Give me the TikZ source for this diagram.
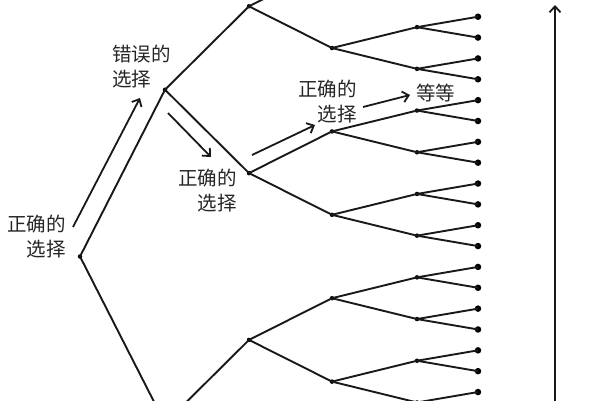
\documentclass[tikz,border=0pt]{standalone}
\usepackage{fontspec}
\newfontfamily\cjk{Noto Sans CJK SC}
\usetikzlibrary{arrows.meta}
\begin{document}
\begin{tikzpicture}[x=1pt,y=-1pt,
  edge/.style={line width=1.9pt, black!90},
  innerdot/.style={circle, fill=black, inner sep=0pt, minimum size=4.5pt},
  leafdot/.style={circle, fill=black, inner sep=0pt, minimum size=6.5pt},
  lbl/.style={font=\cjk\fontsize{19.5}{25}\selectfont, text=black!85, inner sep=0pt},
  hint/.style={line width=1.8pt, black!90, -{Straight Barb[length=6pt,width=11pt,line width=1.8pt]}}]
\useasboundingbox (0,0) rectangle (600,400);
\clip (0,0) rectangle (600,400);
\def\leafgap{20.85}
% tree nodes
\foreach \l/\x in {0/80,1/165,2/249,3/332,4/417} {
  \pgfmathtruncatemacro\nmax{2^\l-1}
  \pgfmathtruncatemacro\wid{2^(5-\l)}
  \foreach \i in {0,...,\nmax} {
    \pgfmathsetmacro\yy{256.5+(\i*\wid+(\wid-1)/2-15.5)*\leafgap}
    \node[innerdot] (n-\l-\i) at (\x,\yy) {};
  }
}
\foreach \i in {0,...,31} {
  \pgfmathsetmacro\yy{256.5+(\i-15.5)*\leafgap}
  \node[leafdot] (n-5-\i) at (478,\yy) {};
}
% edges
\foreach \l in {1,...,5} {
  \pgfmathtruncatemacro\nmax{2^\l-1}
  \pgfmathtruncatemacro\pl{\l-1}
  \foreach \i in {0,...,\nmax} {
    \pgfmathtruncatemacro\p{floor(\i/2)}
    \draw[edge] (n-\pl-\p.center) -- (n-\l-\i.center);
  }
}
% labels
\node[lbl, anchor=west, align=left] (t1) at (112,67) {错误的\\选择};
\node[lbl, anchor=east, align=right] (t2) at (66,237) {正确的\\选择};
\node[lbl, anchor=east, align=right] (t3) at (237,191) {正确的\\选择};
\node[lbl, anchor=east, align=right] (t4) at (357,102) {正确的\\选择};
\node[lbl, anchor=west] (t5) at (416,93) {等等};
% hint arrows
\coordinate (a1s) at (73,227); \coordinate (a1e) at (140,98);
\coordinate (a2s) at (168,113); \coordinate (a2e) at (211,157);
\coordinate (a3s) at (252,155); \coordinate (a3e) at (315,125);
\coordinate (a4s) at (363,107); \coordinate (a4e) at (410,95);
\draw[hint] (a1s) -- (a1e);
\draw[hint] (a2s) -- (a2e);
\draw[hint] (a3s) -- (a3e);
\draw[hint] (a4s) -- (a4e);
% vertical arrow
\coordinate (vb) at (555,410); \coordinate (vt) at (555,5);
\draw[hint] (vb) -- (vt);
\end{tikzpicture}
\end{document}
